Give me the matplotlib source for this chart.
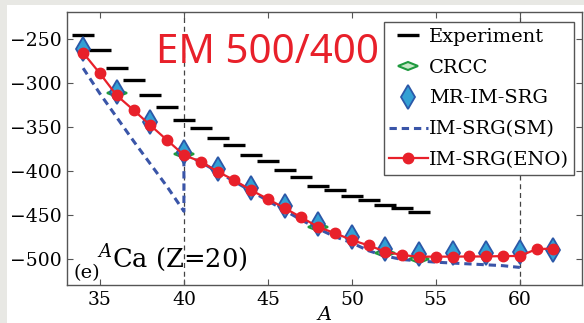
import matplotlib
matplotlib.use("Agg")
import matplotlib.pyplot as plt
from matplotlib.markers import MarkerStyle
from matplotlib.transforms import Affine2D
from matplotlib.patches import Rectangle

plt.rcParams['font.family'] = ['DejaVu Serif']
plt.rcParams['mathtext.fontset'] = 'dejavuserif'

# experiment (horizontal dashes)
A_exp = list(range(34, 55))
E_exp = [-245.5, -262.8, -282.6, -297, -314, -327, -342, -351, -362.5, -370.8,
         -381.8, -389, -399, -406.5, -416.7, -422, -428.4, -433.3, -439, -442.4, -446.3]

# CRCC
A_crcc = [36, 40, 48, 52, 54]
E_crcc = [-311, -381, -464, -493, -500]

# MR-IM-SRG
A_mr = list(range(34, 63, 2))
E_mr = [-261, -310, -344, -379, -398, -419, -440, -461, -475, -489,
        -494.5, -493.5, -493, -492.5, -490]

# IM-SRG(SM): sd shell then pf shell
A_sm_sd = [34, 35, 36, 37, 38, 39, 40]
E_sm_sd = [-283, -312, -339, -366, -392, -418, -446]
A_sm_pf = list(range(40, 61))
E_sm_pf = [-381, -390, -401, -412, -423, -434, -445, -456, -466, -475, -482,
           -491, -497, -501, -502.5, -504, -505, -506, -507, -508, -510]

# IM-SRG(ENO)
A_eno = list(range(34, 63))
E_eno = [-265.5, -289, -314, -330.7, -348, -365, -382, -389.4, -400.8, -410.6,
         -422, -432, -442.5, -453, -464, -471, -478.8, -485, -492, -496,
         -497.7, -497.7, -497.7, -497.5, -497.5, -497, -497, -489, -488.6]

fig = plt.figure(figsize=(5.84, 3.23), dpi=100)
fig.patch.set_facecolor('white')
# thin grey border of the original screenshot
fig.patches.append(Rectangle((0, 0), 7 / 584, 1, transform=fig.transFigure,
                             facecolor='#e8e8e4', edgecolor='none', zorder=-10))
fig.patches.append(Rectangle((0, 1 - 5 / 323), 1, 5 / 323, transform=fig.transFigure,
                             facecolor='#e8e8e4', edgecolor='none', zorder=-10))
ax = fig.add_axes([67 / 584, 1 - 285 / 323, 515 / 584, 273 / 323])

ax.axvline(40, color='#444444', ls=(0, (4, 3)), lw=0.9, zorder=1)
ax.axvline(60, color='#444444', ls=(0, (4, 3)), lw=0.9, zorder=1)

ax.plot(A_exp, E_exp, ls='none', marker='_', ms=16, mew=2.4, color='black',
        label='Experiment', zorder=3)

hdiamond = MarkerStyle('d', transform=Affine2D().rotate_deg(90).scale(1, 0.75))
ax.plot(A_crcc, E_crcc, ls='none', marker=hdiamond, ms=10, mew=1.5,
        mfc='#c8e8c8', mec='#1f9a3f', label='CRCC', zorder=4)

ax.plot(A_mr, E_mr, ls='none', marker='d', ms=12.5, mew=1.3,
        mfc='#33a0d4', mec='#2b58a8', label='MR-IM-SRG', zorder=5)

ax.plot(A_sm_sd + A_sm_pf, E_sm_sd + E_sm_pf, color='#3a55a8', lw=2.2,
        ls=(0, (2.4, 1.6)), label='IM-SRG(SM)', zorder=4)

ax.plot(A_eno, E_eno, color='#e8202a', lw=1.6, marker='o', ms=7.5,
        mec='#e8202a', mfc='#e8202a', label='IM-SRG(ENO)', zorder=6)

ax.set_xlim(33.04, 63.7)
ax.set_ylim(-530, -219)
ax.set_xticks([35, 40, 45, 50, 55, 60])
ax.set_yticks([-250, -300, -350, -400, -450, -500])
ax.set_yticklabels(['\u2212250', '\u2212300', '\u2212350', '\u2212400', '\u2212450', '\u2212500'])
ax.tick_params(direction='in', top=True, right=True, length=4, width=0.8,
               labelsize=13.5, pad=4, color='#555555')
for sp in ax.spines.values():
    sp.set_color('#555555')
    sp.set_linewidth(1.0)
ax.set_xlabel('$A$', fontsize=14, labelpad=-2)

ax.text(0.173, 0.813, 'EM 500/400', transform=ax.transAxes, color='#e8202a',
        fontsize=29, family='Noto Sans', ha='left', va='baseline')
ax.text(0.012, 0.026, '(e)', transform=ax.transAxes, fontsize=14,
        ha='left', va='baseline')
ax.text(0.058, 0.066, '$^{A}$Ca (Z=20)', transform=ax.transAxes, fontsize=18.5,
        ha='left', va='baseline')

leg = ax.legend(loc='upper right', bbox_to_anchor=(0.985, 0.962), fontsize=14,
                numpoints=1, handlelength=2.0, handletextpad=0.05,
                labelspacing=0.66, borderpad=0.28, borderaxespad=0,
                fancybox=False, framealpha=1, edgecolor='#555555')
leg.get_frame().set_linewidth(1.0)

fig.savefig('out.png', dpi=100)
